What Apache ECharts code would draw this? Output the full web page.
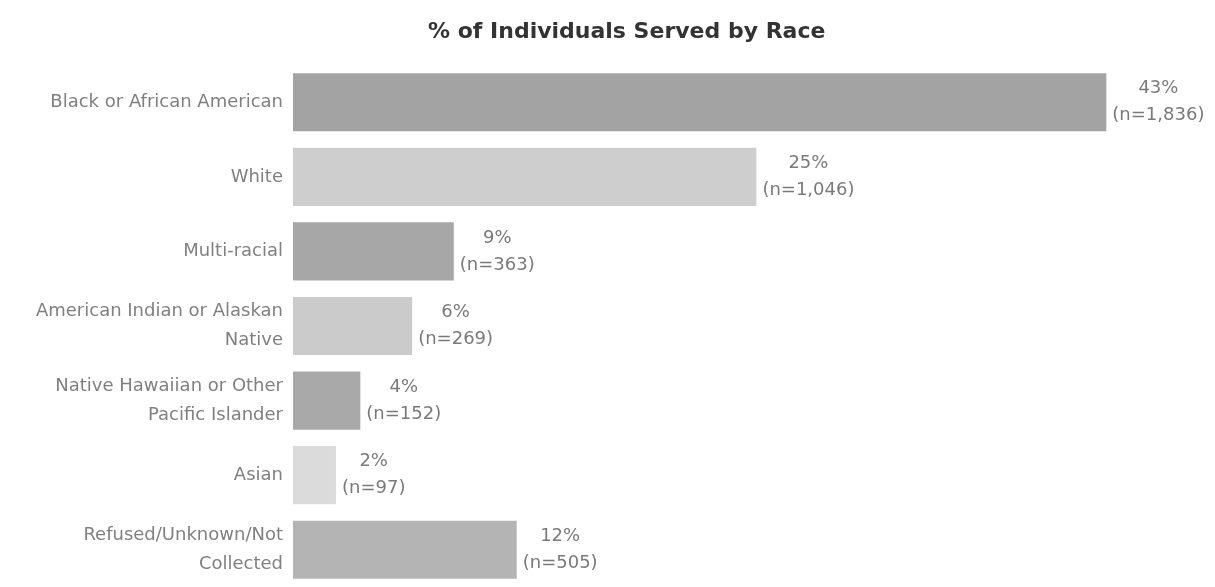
<!DOCTYPE html>
<html><head><meta charset="utf-8">
<script src="https://cdn.jsdelivr.net/npm/echarts@6/dist/echarts.min.js"></script>
<style>html,body{margin:0;padding:0;background:#fff}#c{width:1215px;height:587px}</style>
</head><body><div id="c"></div>
<script>
const categories = ['Black or African American','White','Multi-racial','American Indian or Alaskan\nNative','Native Hawaiian or Other\nPacific Islander','Asian','Refused/Unknown/Not\nCollected'];
const counts = [1836, 1046, 363, 269, 152, 97, 505];
const percents = [43, 25, 9, 6, 4, 2, 12];
const barColors = ['#a3a3a3','#cecece','#a7a7a7','#cbcbcb','#a9a9a9','#dbdbdb','#b4b4b4'];

const chart = echarts.init(document.getElementById('c'));
chart.setOption({
  backgroundColor: '#fff',
  animation: false,
  title: {
    text: '% of Individuals Served by Race',
    left: 423, top: 16,
    textStyle: { fontFamily: 'DejaVu Sans', fontWeight: 'bold', fontSize: 22, color: '#333' }
  },
  grid: { left: 293, width: 886, top: 65, height: 529 },
  xAxis: { type: 'value', min: 0, max: 2000, show: false },
  yAxis: {
    type: 'category', inverse: true, data: categories,
    axisLine: { show: false }, axisTick: { show: false },
    axisLabel: { margin: 10, color: '#808080', fontFamily: 'DejaVu Sans', fontSize: 18, lineHeight: 29, align: 'right' }
  },
  series: [{
    type: 'bar',
    data: counts.map((v, i) => ({ value: v, itemStyle: { color: barColors[i] } })),
    barCategoryGap: '22%',
    label: {
      show: true, position: 'right', distance: 6,
      formatter: p => '{a|' + percents[p.dataIndex] + '%}\n{a|(n=' + counts[p.dataIndex].toLocaleString('en-US') + ')}',
      rich: { a: { align: 'center', color: '#7a7a7a', fontFamily: 'DejaVu Sans', fontSize: 18, lineHeight: 27 } }
    }
  }]
});
</script></body></html>
